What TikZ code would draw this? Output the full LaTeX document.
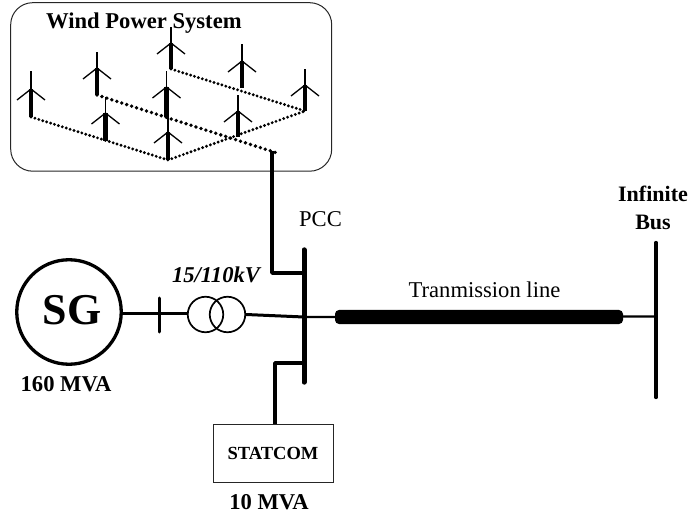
\documentclass[tikz,border=0pt]{standalone}
\usepackage{fontspec}
\setmainfont{Liberation Serif}
\begin{document}
\begin{tikzpicture}[x=1pt,y=-1pt,
  boldlabel/.style={inner sep=0pt,font=\bfseries\fontsize{22.6}{28}\selectfont,align=center},
  plainlabel/.style={inner sep=0pt,font=\fontsize{22.6}{28}\selectfont},
  wire/.style={line width=3pt,line join=round},
  feeder/.style={line width=3.6pt,line join=round},
  busbar/.style={line width=5pt,line cap=round},
  dotline/.style={line width=3.2pt,line cap=round,dash pattern=on 0pt off 4.1pt},
  bigdotline/.style={line width=3.8pt,line cap=round,dash pattern=on 0pt off 5.2pt},
  mast/.style={line width=1.2pt},
  tower/.style={line width=4.6pt},
  blade/.style={line width=1.3pt}]
\useasboundingbox (0,0) rectangle (690,518);
% wind farm frame
\node[draw=black!85,line width=1pt,rounded corners=22pt,minimum width=321pt,minimum height=168.5pt,inner sep=0pt,anchor=north west] (farm) at (10.2,2.2) {};
\node[boldlabel,anchor=west] (wtitle) at (46,23) {Wind Power System};
% turbines
\foreach \n/\x/\b/\h/\t in {a/31/117/89/71, b/97/95/68/52, c/171/69/43/27, d/242/88/61/44, e/305/111/85/69, f/105.5/141/113/97, g/166.5/117/87/71, h/168/160/132/117, i/238/137/111/95}{
  \coordinate (base\n) at (\x,\b);
  \coordinate (hub\n) at (\x,\h);
  \coordinate (top\n) at (\x,\t);
  \coordinate (left\n) at (\x-14,\h+11);
  \coordinate (right\n) at (\x+14,\h+11);
  \draw[tower] (base\n) -- (hub\n);
  \draw[mast] (hub\n) -- (top\n);
  \draw[blade] (left\n) -- (hub\n) -- (right\n);
}
\coordinate (farmout) at (277,153);
\coordinate (wjoin) at (272,151);
\draw[dotline] (basea) -- (baseh) -- (basee);
\draw[dotline] (basec) -- (basee);
\draw[bigdotline] (baseb) -- (farmout);
% generator
\node[draw,circle,line width=3.3pt,minimum size=104.5pt,inner sep=0pt] (sg) at (69,312) {};
\node[inner sep=0pt,font=\bfseries\fontsize{44}{48}\selectfont] (sgt) at (72,310) {SG};
\node[boldlabel] (sgl) at (66,384) {160 MVA};
% tick
\coordinate (ticktop) at (159,298);
\coordinate (tickbot) at (159,332);
\draw[line width=3pt,line cap=round] (ticktop) -- (tickbot);
% transformer
\node[draw,circle,line width=1.7pt,minimum size=35.5pt,inner sep=0pt] (t1) at (205.5,314.5) {};
\node[draw,circle,line width=1.7pt,minimum size=35.5pt,inner sep=0pt] (t2) at (227.5,314.5) {};
\node[inner sep=0pt,font=\bfseries\itshape\fontsize{22.6}{28}\selectfont] (tl) at (216,275) {15/110kV};
% buses
\node[inner sep=0pt,minimum width=5pt,minimum height=132pt] (pcc) at (304,316) {};
\draw[busbar] (pcc.north) -- (pcc.south);
\node[inner sep=0pt,minimum width=4pt,minimum height=154pt] (inf) at (656,320) {};
\draw[line width=4pt,line cap=round] (inf.north) -- (inf.south);
\node[plainlabel] (pccl) at (320.5,219) {PCC};
\node[boldlabel,font=\bfseries\fontsize{22}{28}\selectfont] (infl) at (653,208) {Infinite\\Bus};
% connections
\coordinate (sgwire) at (122,313.5);
\coordinate (t1wire) at (187,313.5);
\draw[wire] (sgwire) -- (t1wire);
\coordinate (t2wire) at (246,314.5);
\coordinate (pccwire) at (304,317);
\coordinate (infwire) at (656,316.5);
\draw[wire] (t2wire) -- (pccwire);
\draw[line width=2.4pt] (pccwire) -- (infwire);
\node[fill=black,draw=none,rounded corners=4pt,minimum width=288pt,minimum height=14pt,inner sep=0pt] (tx) at (479,317) {};
\node[plainlabel] (tline) at (484.5,290) {Tranmission line};
% wind feeder
\coordinate (wcorner) at (272,273);
\coordinate (wbus) at (304,273);
\draw[feeder] (wjoin) -- (wcorner) -- (wbus);
% statcom
\node[draw=black!85,line width=1pt,minimum width=120pt,minimum height=58.5pt,inner sep=0pt,font=\bfseries\fontsize{18.5}{22}\selectfont] (st) at (273,453.5) {STATCOM};
\coordinate (scorner) at (275,363);
\coordinate (sbus) at (304,363);
\draw[feeder] (st.north -| scorner) -- (scorner) -- (sbus);
\node[boldlabel] (stl) at (269,502) {10 MVA};
\end{tikzpicture}
\end{document}
